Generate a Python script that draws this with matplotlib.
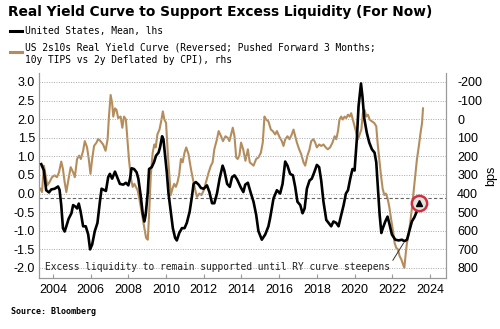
import numpy as np
import matplotlib
matplotlib.use("Agg")
import matplotlib.pyplot as plt
from matplotlib.lines import Line2D
from matplotlib import font_manager

# US excess liquidity mean (lhs), decimal years
us_years = [2003.38, 2003.52, 2003.64, 2003.79, 2003.91, 2004.09, 2004.27, 2004.35, 2004.44, 2004.53,
            2004.62, 2004.71, 2004.83, 2004.98, 2005.07, 2005.19, 2005.28, 2005.37, 2005.47, 2005.60,
            2005.74, 2005.87, 2005.97, 2006.08, 2006.22, 2006.36, 2006.49, 2006.58, 2006.70, 2006.81,
            2006.93, 2007.02, 2007.14, 2007.29, 2007.41, 2007.55, 2007.73, 2007.87, 2008.00, 2008.09,
            2008.17, 2008.30, 2008.44, 2008.53, 2008.65, 2008.76, 2008.85, 2008.92, 2009.03, 2009.10,
            2009.24, 2009.36, 2009.47, 2009.60, 2009.68, 2009.79, 2009.86, 2009.95, 2010.04, 2010.13,
            2010.25, 2010.36, 2010.48, 2010.57, 2010.70, 2010.84, 2010.98, 2011.10, 2011.25, 2011.37,
            2011.46, 2011.58, 2011.73, 2011.85, 2012.00, 2012.17, 2012.30, 2012.44, 2012.56, 2012.70,
            2012.84, 2013.00, 2013.09, 2013.24, 2013.38, 2013.50, 2013.63, 2013.77, 2013.95, 2014.10,
            2014.20, 2014.34, 2014.48, 2014.64, 2014.78, 2014.90, 2015.08, 2015.26, 2015.43, 2015.52,
            2015.70, 2015.88, 2016.05, 2016.18, 2016.32, 2016.44, 2016.58, 2016.73, 2016.85, 2016.97,
            2017.12, 2017.24, 2017.35, 2017.47, 2017.61, 2017.73, 2017.86, 2018.00, 2018.12, 2018.23,
            2018.35, 2018.50, 2018.62, 2018.76, 2018.88, 2019.03, 2019.15, 2019.27, 2019.42, 2019.54,
            2019.65, 2019.77, 2019.89, 2020.00, 2020.12, 2020.21, 2020.34, 2020.42, 2020.51, 2020.65,
            2020.78, 2020.92, 2021.06, 2021.15, 2021.24, 2021.33, 2021.42, 2021.50, 2021.63, 2021.75,
            2021.86, 2021.98, 2022.16, 2022.34, 2022.51, 2022.64, 2022.78, 2022.92, 2023.04, 2023.17,
            2023.31, 2023.43]
us_mean = [0.79, 0.62, 0.09, 0.03, 0.11, 0.13, 0.19, 0.10, -0.31, -0.93,
           -1.02, -0.88, -0.68, -0.53, -0.31, -0.35, -0.40, -0.27, -0.49, -0.88,
           -0.88, -1.10, -1.50, -1.37, -1.01, -0.79, -0.22, 0.13, 0.10, 0.07,
           0.44, 0.53, 0.40, 0.59, 0.44, 0.26, 0.24, 0.29, 0.22, 0.41,
           0.68, 0.66, 0.57, 0.40, -0.04, -0.53, -0.75, -0.57, 0.04, 0.66,
           0.71, 0.84, 1.02, 1.10, 1.24, 1.54, 1.46, 1.02, 0.57, 0.00,
           -0.49, -0.93, -1.19, -1.26, -1.06, -0.93, -0.93, -0.79, -0.49, -0.09,
           0.26, 0.31, 0.24, 0.15, 0.13, 0.22, 0.04, -0.26, -0.26, 0.00,
           0.40, 0.75, 0.62, 0.26, 0.18, 0.44, 0.49, 0.38, 0.18, 0.04,
           0.24, 0.29, 0.04, -0.22, -0.57, -1.01, -1.24, -1.10, -0.88, -0.66,
           -0.13, 0.09, 0.00, 0.26, 0.86, 0.75, 0.53, 0.49, 0.18, -0.22,
           -0.31, -0.53, -0.40, 0.13, 0.35, 0.40, 0.57, 0.77, 0.71, 0.35,
           -0.22, -0.71, -0.79, -0.88, -0.75, -0.79, -0.88, -0.62, -0.31, 0.00,
           0.09, 0.40, 0.66, 0.62, 1.46, 2.34, 2.96, 2.60, 2.03, 1.63,
           1.37, 1.19, 1.10, 0.84, 0.13, -0.57, -1.06, -0.93, -0.75, -0.62,
           -0.84, -1.10, -1.24, -1.26, -1.24, -1.28, -1.24, -0.97, -0.75, -0.64,
           -0.47, -0.26]

# US 2s10s real yield curve, bps (rhs, reversed)
ry_years = [2003.33, 2003.42, 2003.52, 2003.61, 2003.70, 2003.82, 2003.95, 2004.09, 2004.21, 2004.32,
            2004.44, 2004.53, 2004.62, 2004.71, 2004.83, 2004.94, 2005.07, 2005.16, 2005.28, 2005.39,
            2005.48, 2005.60, 2005.69, 2005.81, 2005.90, 2005.99, 2006.08, 2006.18, 2006.31, 2006.40,
            2006.52, 2006.66, 2006.79, 2006.90, 2006.97, 2007.06, 2007.14, 2007.20, 2007.29, 2007.37,
            2007.46, 2007.59, 2007.68, 2007.77, 2007.87, 2007.94, 2008.03, 2008.14, 2008.23, 2008.32,
            2008.40, 2008.49, 2008.58, 2008.67, 2008.76, 2008.85, 2008.94, 2009.03, 2009.10, 2009.19,
            2009.29, 2009.38, 2009.45, 2009.54, 2009.65, 2009.74, 2009.83, 2009.91, 2010.00, 2010.09,
            2010.18, 2010.25, 2010.34, 2010.43, 2010.52, 2010.61, 2010.70, 2010.79, 2010.88, 2010.98,
            2011.07, 2011.19, 2011.32, 2011.42, 2011.55, 2011.64, 2011.76, 2011.88, 2012.00, 2012.12,
            2012.26, 2012.38, 2012.47, 2012.56, 2012.70, 2012.79, 2012.92, 2013.02, 2013.15, 2013.27,
            2013.36, 2013.45, 2013.54, 2013.63, 2013.72, 2013.80, 2013.89, 2013.98, 2014.09, 2014.21,
            2014.34, 2014.44, 2014.64, 2014.78, 2014.90, 2015.03, 2015.13, 2015.22, 2015.31, 2015.43,
            2015.56, 2015.66, 2015.79, 2015.88, 2016.00, 2016.14, 2016.23, 2016.32, 2016.44, 2016.55,
            2016.67, 2016.76, 2016.85, 2016.94, 2017.06, 2017.17, 2017.29, 2017.38, 2017.50, 2017.61,
            2017.70, 2017.82, 2017.91, 2018.00, 2018.12, 2018.23, 2018.35, 2018.47, 2018.58, 2018.70,
            2018.83, 2018.94, 2019.03, 2019.12, 2019.20, 2019.29, 2019.38, 2019.47, 2019.56, 2019.65,
            2019.74, 2019.82, 2019.91, 2020.00, 2020.09, 2020.18, 2020.27, 2020.36, 2020.44, 2020.53,
            2020.62, 2020.71, 2020.80, 2020.92, 2021.04, 2021.15, 2021.22, 2021.31, 2021.40, 2021.49,
            2021.58, 2021.66, 2021.75, 2021.84, 2021.93, 2022.04, 2022.12, 2022.21, 2022.30, 2022.39,
            2022.48, 2022.57, 2022.64, 2022.71, 2022.78, 2022.87, 2022.96, 2023.04, 2023.13, 2023.22,
            2023.31, 2023.40, 2023.50, 2023.58, 2023.63]
ry_bps = [374, 392, 250, 302, 356, 338, 312, 302, 312, 286,
          228, 268, 338, 392, 320, 258, 286, 312, 214, 196,
          214, 170, 118, 152, 214, 294, 214, 144, 126, 106,
          118, 136, 170, 108, -14, -130, -86, -14, -58, -50,
          -6, -14, 46, -14, 2, 92, 214, 320, 364, 348,
          364, 382, 426, 480, 532, 586, 638, 648, 514, 302,
          180, 136, 152, 82, 56, 12, -42, 2, 20, 180,
          312, 408, 374, 348, 364, 338, 294, 214, 232, 180,
          152, 188, 268, 320, 382, 418, 400, 408, 382, 338,
          286, 250, 232, 162, 108, 64, 92, 118, 92, 100,
          118, 82, 46, 92, 206, 214, 196, 126, 162, 224,
          162, 232, 250, 214, 206, 180, 126, -14, 2, 12,
          56, 64, 82, 64, 92, 118, 144, 108, 92, 108,
          82, 56, 92, 126, 162, 188, 232, 250, 196, 162,
          118, 108, 126, 152, 136, 144, 136, 152, 162, 152,
          126, 92, 108, 64, 2, -14, 2, -14, -6, -24,
          -14, -32, 2, 38, 74, 108, 82, 56, -32, -50,
          -14, -24, 2, 12, 20, 38, 126, 214, 302, 374,
          408, 400, 426, 470, 532, 602, 664, 692, 700, 736,
          754, 780, 800, 726, 664, 620, 550, 480, 392, 302,
          214, 152, 74, 20, -58]

year_ticks = list(range(2004, 2025, 2))
lhs_ticks = [3.0, 2.5, 2.0, 1.5, 1.0, 0.5, 0.0, -0.5, -1.0, -1.5, -2.0]
rhs_ticks = [-200, -100, 0, 100, 200, 300, 400, 500, 600, 700, 800]

TAN = '#b58d5c'
GRID = '#a8a8a8'
mono = 'DejaVu Sans Mono'
sans = 'Liberation Sans'

# condensed bold face for the title if there is one
title_font = 'DejaVu Sans'
for cand in ['DejaVu Sans Condensed', 'Liberation Sans Narrow']:
    try:
        font_manager.findfont(font_manager.FontProperties(family=cand, weight='bold'),
                              fallback_to_default=False)
        title_font = cand
        break
    except Exception:
        pass

fig = plt.figure(figsize=(5.0, 3.29), dpi=100)
ax = fig.add_axes([0.078, 0.155, 0.814, 0.623])
ax2 = ax.twinx()

ax.set_xlim(2003.26, 2024.85)
ax.set_ylim(-2.27, 3.24)
ax2.set_ylim(854, -248)

for t in lhs_ticks:
    ax.axhline(t, color=GRID, lw=0.7, ls=(0, (1, 1.5)), zorder=0)
ax.axhline(-0.13, color='#666666', lw=0.8, ls=(0, (3, 2)), zorder=0)

ax2.plot(ry_years, ry_bps, color=TAN, lw=1.5, zorder=2)
ax.set_zorder(ax2.get_zorder() + 1)
ax.patch.set_visible(False)
ax.plot(us_years, us_mean, color='black', lw=1.9, zorder=3)

# marker at latest point
ax.plot(us_years[-1], us_mean[-1], 'o', ms=11, mfc='#e4e4e4', mec='#d0303c', mew=1.8, zorder=4)
ax.plot(us_years[-1], us_mean[-1], '^', ms=4.5, color='black', zorder=5)

ax.annotate('Excess liquidity to remain supported until RY curve steepens',
            xy=(2022.6, -1.33), xytext=(2003.58, -1.97), ha='left', va='center',
            fontsize=6.9, family=mono, color='#222222',
            arrowprops=dict(arrowstyle='-', color='#333333', lw=0.7,
                            shrinkA=0, shrinkB=0, relpos=(1.0, 0.7)), zorder=6)

ax.set_xticks(year_ticks)
ax.set_xticklabels([str(y) for y in year_ticks], fontsize=9, family=sans)
ax.set_yticks(lhs_ticks)
ax.set_yticklabels(['%.1f' % v for v in lhs_ticks], fontsize=9, family=sans)
ax2.set_yticks(rhs_ticks)
ax2.set_yticklabels([str(v) for v in rhs_ticks], fontsize=9, family=sans)
ax2.set_ylabel('bps', fontsize=9, family=sans, rotation=90, labelpad=2)

ax.tick_params(axis='x', direction='in', length=3, color='#999999', pad=4)
ax.tick_params(axis='y', length=0, pad=3)
ax2.tick_params(axis='y', length=0, pad=8)
for a in (ax, ax2):
    a.spines['top'].set_visible(False)
    for s in ('left', 'right', 'bottom'):
        a.spines[s].set_color('#999999')
        a.spines[s].set_linewidth(0.8)

# title, legend, source
title = fig.text(0.016, 1 - 12 / 329, 'Real Yield Curve to Support Excess Liquidity (For Now)',
                 fontsize=11.5, fontweight='bold', family=title_font, va='center', ha='left')
renderer = fig.canvas.get_renderer()
w = title.get_window_extent(renderer).width
title.set_fontsize(11.5 * 427.0 / w)

fig.add_artist(Line2D([0.02, 0.044], [1 - 31 / 329] * 2, color='black', lw=2.2,
                      transform=fig.transFigure))
fig.text(0.05, 1 - 31 / 329, 'United States, Mean, lhs', fontsize=6.9, family=mono,
         va='center', ha='left')
fig.add_artist(Line2D([0.02, 0.044], [1 - 52 / 329] * 2, color=TAN, lw=2.2,
                      transform=fig.transFigure))
fig.text(0.05, 1 - 47 / 329, 'US 2s10s Real Yield Curve (Reversed; Pushed Forward 3 Months;',
         fontsize=6.9, family=mono, va='center', ha='left')
fig.text(0.05, 1 - 60 / 329, '10y TIPS vs 2y Deflated by CPI), rhs',
         fontsize=6.9, family=mono, va='center', ha='left')
fig.text(0.022, 1 - 312 / 329, 'Source: Bloomberg', fontsize=6, fontweight='bold',
         family=mono, va='center', ha='left')

fig.savefig('out.png', dpi=100)
